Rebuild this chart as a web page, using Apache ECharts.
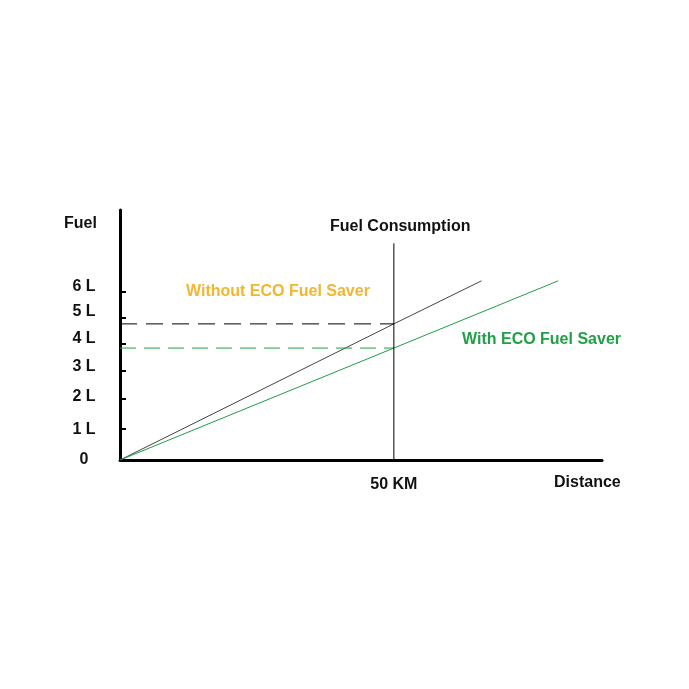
<!DOCTYPE html>
<html>
<head>
<meta charset="utf-8">
<script src="https://cdn.jsdelivr.net/npm/echarts@6/dist/echarts.min.js"></script>
<style>
html,body{margin:0;padding:0;background:#fff;}
#chart{width:689px;height:689px;}
</style>
</head>
<body>
<div id="chart"></div>
<script>
// ---- data ----
var distanceWithout = [0, 50, 66];
var fuelWithout = [0, 4.9, 6.45];
var distanceWith = [0, 50, 80];
var fuelWith = [0, 4.03, 6.45];
var markDistance = 50;
var markTop = 7.8;
var yTickPositions = [1.12, 2.2, 3.2, 4.18, 5.11, 6.05];
var yLabelPositions = [0, 1.08, 2.27, 3.35, 4.36, 5.36, 6.26];
var yLabelTexts = ['0', '1 L', '2 L', '3 L', '4 L', '5 L', '6 L'];
var xLabelPositions = [50];
var xLabelTexts = ['50 KM'];

function pairs(xs, ys) { return xs.map(function (x, i) { return [x, ys[i]]; }); }

var FONT = '"Liberation Sans", Arial, sans-serif';
var chart = echarts.init(document.getElementById('chart'));
chart.setOption({
  animation: false,
  backgroundColor: '#fff',
  grid: { left: 120, top: 210, width: 482, height: 250 },
  xAxis: {
    type: 'value', min: 0, max: 88,
    splitLine: { show: false },
    axisLine: { lineStyle: { color: '#000', width: 3 } },
    axisTick: { show: false },
    axisLabel: {
      customValues: xLabelPositions,
      formatter: function (v) { var i = xLabelPositions.indexOf(v); return i >= 0 ? xLabelTexts[i] : ''; },
      color: '#111', fontFamily: FONT, fontWeight: 'bold', fontSize: 16, margin: 17
    }
  },
  yAxis: {
    type: 'value', min: 0, max: 9,
    splitLine: { show: false },
    axisLine: { show: true, lineStyle: { color: '#000', width: 3 } },
    axisTick: { show: true, inside: true, length: 6, customValues: yTickPositions, lineStyle: { color: '#000', width: 2 } },
    axisLabel: {
      customValues: yLabelPositions,
      formatter: function (v) { var i = yLabelPositions.indexOf(v); return i >= 0 ? yLabelTexts[i] : ''; },
      color: '#111', fontFamily: FONT, fontWeight: 'bold', fontSize: 16, margin: 36, align: 'center'
    }
  },
  series: [
    { type: 'line', data: pairs(distanceWithout, fuelWithout), showSymbol: false, z: 3,
      lineStyle: { color: '#444', width: 1 } },
    { type: 'line', data: pairs(distanceWith, fuelWith), showSymbol: false, z: 3,
      lineStyle: { color: '#1e9e4a', width: 1 } },
    { type: 'line', data: [[0, fuelWithout[1]], [markDistance, fuelWithout[1]]], showSymbol: false,
      lineStyle: { color: '#000', width: 1, type: [17, 9] } },
    { type: 'line', data: [[0, fuelWith[1]], [markDistance, fuelWith[1]]], showSymbol: false,
      lineStyle: { color: '#1e9e4a', width: 1, type: [16, 8] } },
    { type: 'line', data: [[markDistance, 0], [markDistance, markTop]], showSymbol: false,
      lineStyle: { color: '#000', width: 1 } }
  ],
  graphic: [
    { type: 'text', left: 64, top: 216, style: { text: 'Fuel', fill: '#111', font: 'bold 16px ' + FONT } },
    { type: 'text', left: 330, top: 219, style: { text: 'Fuel Consumption', fill: '#111', font: 'bold 16px ' + FONT } },
    { type: 'text', left: 554, top: 475, style: { text: 'Distance', fill: '#111', font: 'bold 16px ' + FONT } },
    { type: 'text', left: 186, top: 284, style: { text: 'Without ECO Fuel Saver', fill: '#f2b630', font: 'bold 16px ' + FONT } },
    { type: 'text', left: 462, top: 332, style: { text: 'With ECO Fuel Saver', fill: '#22a046', font: 'bold 16px ' + FONT } }
  ]
});
</script>
</body>
</html>
